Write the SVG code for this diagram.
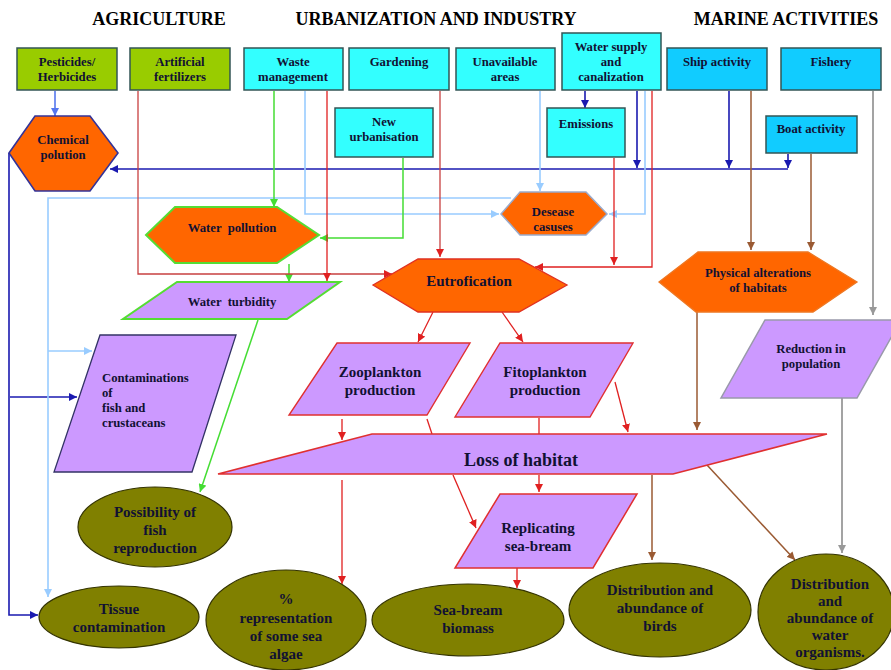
<svg xmlns="http://www.w3.org/2000/svg" width="891" height="670" viewBox="0 0 891 670" font-family="'Liberation Serif','Times New Roman',serif">
<defs>
<style>
text{font-family:"Liberation Serif","Times New Roman",serif;font-weight:bold;fill:#111133;text-anchor:middle}
.title{font-size:18px;fill:#000}
.bx{font-size:12.7px}
.lg{font-size:15px}
.green{fill:#99cc00;stroke:#335555;stroke-width:1.5}
.cyan{fill:#33ffff;stroke:#335555;stroke-width:1.5}
.blue{fill:#11ccff;stroke:#335555;stroke-width:1.5}
.orange{fill:#ff6600}
.purple{fill:#cc99ff}
.olive{fill:#808000;stroke:#333300;stroke-width:1.2}
.c{fill:none;stroke-width:1.3}
.red{stroke:#e02020}
.dred{stroke:#c84040}
.dblue{stroke:#1a1ab0;stroke-width:1.6}
.lblue{stroke:#99ccff;stroke-width:1.6}
.grn{stroke:#44dd33;stroke-width:1.5}
.brn{stroke:#9a5a33;stroke-width:1.5}
.gry{stroke:#999999;stroke-width:1.8}
.pbl{stroke:#5577ee;stroke-width:1.6}
</style>
<marker id="aR" markerWidth="8" markerHeight="8" refX="8" refY="4" orient="auto" markerUnits="userSpaceOnUse"><path d="M0,0 L8,4 L0,8 z" fill="#e02020"/></marker>
<marker id="aDB" markerWidth="8" markerHeight="8" refX="8" refY="4" orient="auto" markerUnits="userSpaceOnUse"><path d="M0,0 L8,4 L0,8 z" fill="#1a1ab0"/></marker>
<marker id="aLB" markerWidth="8" markerHeight="8" refX="8" refY="4" orient="auto" markerUnits="userSpaceOnUse"><path d="M0,0 L8,4 L0,8 z" fill="#99ccff"/></marker>
<marker id="aG" markerWidth="8" markerHeight="8" refX="8" refY="4" orient="auto" markerUnits="userSpaceOnUse"><path d="M0,0 L8,4 L0,8 z" fill="#44dd33"/></marker>
<marker id="aBr" markerWidth="8" markerHeight="8" refX="8" refY="4" orient="auto" markerUnits="userSpaceOnUse"><path d="M0,0 L8,4 L0,8 z" fill="#9a5a33"/></marker>
<marker id="aGy" markerWidth="8" markerHeight="8" refX="8" refY="4" orient="auto" markerUnits="userSpaceOnUse"><path d="M0,0 L8,4 L0,8 z" fill="#999999"/></marker>
<marker id="aPB" markerWidth="8" markerHeight="8" refX="8" refY="4" orient="auto" markerUnits="userSpaceOnUse"><path d="M0,0 L8,4 L0,8 z" fill="#5577ee"/></marker>
</defs>
<rect width="891" height="670" fill="#ffffff"/>

<g id="titles">
<text class="title" x="159" y="25">AGRICULTURE</text>
<text class="title" x="436" y="25">URBANIZATION AND INDUSTRY</text>
<text class="title" x="786" y="25">MARINE ACTIVITIES</text>
</g>

<g id="connectors">
<line class="c pbl" x1="55" y1="91" x2="55" y2="116" marker-end="url(#aPB)"/>
<line class="c dblue" x1="585" y1="91" x2="585" y2="108" marker-end="url(#aDB)"/>
<line class="c dblue" x1="637" y1="91" x2="637" y2="168" marker-end="url(#aDB)"/>
<line class="c dblue" x1="729" y1="91" x2="729" y2="168" marker-end="url(#aDB)"/>
<line class="c dblue" x1="788" y1="154" x2="788" y2="168" marker-end="url(#aDB)"/>
<polyline class="c dblue" points="788,169 110,169" marker-end="url(#aDB)"/>
<polyline class="c dblue" points="9,153 9,615 38,615" marker-end="url(#aDB)"/>
<line class="c dblue" x1="10" y1="397" x2="77" y2="397" marker-end="url(#aDB)"/>
<polyline class="c lblue" points="305,91 305,214 499,214" marker-end="url(#aLB)"/>
<line class="c lblue" x1="540" y1="91" x2="540" y2="191" marker-end="url(#aLB)"/>
<polyline class="c lblue" points="645,91 645,214 609,214" marker-end="url(#aLB)"/>
<polyline class="c lblue" points="511,198 48,198 48,597" marker-end="url(#aLB)"/>
<line class="c lblue" x1="48" y1="351" x2="92" y2="351" marker-end="url(#aLB)"/>
<line class="c grn" x1="274" y1="91" x2="274" y2="207" marker-end="url(#aG)"/>
<polyline class="c grn" points="403,158 403,238 320,238" marker-end="url(#aG)"/>
<line class="c grn" x1="289" y1="264" x2="289" y2="282" marker-end="url(#aG)"/>
<line class="c grn" x1="258" y1="320" x2="200" y2="492" marker-end="url(#aG)"/>
<polyline class="c dred" points="138,91 138,274 392,274" marker-end="url(#aR)"/>
<line class="c red" x1="327" y1="91" x2="327" y2="281" marker-end="url(#aR)"/>
<line class="c dred" x1="440" y1="91" x2="440" y2="257" marker-end="url(#aR)"/>
<line class="c red" x1="614" y1="158" x2="614" y2="265" marker-end="url(#aR)"/>
<polyline class="c red" points="652,91 652,267 535,267" marker-end="url(#aR)"/>
<line class="c red" x1="433" y1="312" x2="418" y2="342" marker-end="url(#aR)"/>
<line class="c red" x1="502" y1="312" x2="523" y2="342" marker-end="url(#aR)"/>
<line class="c red" x1="342" y1="419" x2="342" y2="440" marker-end="url(#aR)"/>
<line class="c red" x1="427" y1="419" x2="432" y2="434"/>
<line class="c red" x1="539" y1="418" x2="539" y2="434"/>
<line class="c red" x1="615" y1="382" x2="628" y2="432" marker-end="url(#aR)"/>
<line class="c red" x1="342" y1="480" x2="342" y2="584" marker-end="url(#aR)"/>
<line class="c red" x1="453" y1="475" x2="476" y2="528" marker-end="url(#aR)"/>
<line class="c red" x1="539" y1="475" x2="539" y2="492" marker-end="url(#aR)"/>
<line class="c red" x1="517" y1="568" x2="517" y2="588" marker-end="url(#aR)"/>
<line class="c brn" x1="652" y1="475" x2="652" y2="560" marker-end="url(#aBr)"/>
<line class="c brn" x1="707" y1="465" x2="795" y2="560" marker-end="url(#aBr)"/>
<line class="c brn" x1="751" y1="91" x2="751" y2="250" marker-end="url(#aBr)"/>
<line class="c brn" x1="811" y1="154" x2="811" y2="250" marker-end="url(#aBr)"/>
<line class="c brn" x1="697" y1="312" x2="697" y2="430" marker-end="url(#aBr)"/>
<line class="c gry" x1="873" y1="91" x2="873" y2="315" marker-end="url(#aGy)"/>
<line class="c gry" x1="842" y1="398" x2="842" y2="553" marker-end="url(#aGy)"/>
</g>

<g id="n-pesticides"><rect class="green" x="17" y="48" width="100" height="42"/><text class="bx" x="67" y="66">Pesticides/</text><text class="bx" x="67" y="81">Herbicides</text></g>
<g id="n-fertilizers"><rect class="green" x="130" y="48" width="100" height="42"/><text class="bx" x="180" y="66">Artificial</text><text class="bx" x="180" y="81">fertilizers</text></g>
<g id="n-waste"><rect class="cyan" x="244" y="48" width="99" height="42"/><text class="bx" x="293" y="66">Waste</text><text class="bx" x="293" y="81">management</text></g>
<g id="n-gardening"><rect class="cyan" x="349" y="48" width="100" height="42"/><text class="bx" x="399" y="66">Gardening</text></g>
<g id="n-unavailable"><rect class="cyan" x="456" y="48" width="99" height="42"/><text class="bx" x="505" y="66">Unavailable</text><text class="bx" x="505" y="81">areas</text></g>
<g id="n-watersupply"><rect class="cyan" x="562" y="33" width="99" height="57"/><text class="bx" x="611" y="51">Water supply</text><text class="bx" x="611" y="66">and</text><text class="bx" x="611" y="81">canalization</text></g>
<g id="n-ship"><rect class="blue" x="667" y="48" width="100" height="42"/><text class="bx" x="717" y="66">Ship activity</text></g>
<g id="n-fishery"><rect class="blue" x="781" y="48" width="100" height="42"/><text class="bx" x="831" y="66">Fishery</text></g>
<g id="n-newurban"><rect class="cyan" x="335" y="108" width="98" height="49"/><text class="bx" x="384" y="126">New</text><text class="bx" x="384" y="141">urbanisation</text></g>
<g id="n-emissions"><rect class="cyan" x="547" y="108" width="78" height="49"/><text class="bx" x="586" y="128">Emissions</text></g>
<g id="n-boat"><rect class="blue" x="766" y="116" width="91" height="37"/><text class="bx" x="811" y="133">Boat activity</text></g>

<g id="n-chemical"><polygon class="orange" points="9,153 35,116 90,116 118,153 90,191 35,191" stroke="#333399" stroke-width="1.6"/><text class="bx" x="63" y="144">Chemical</text><text class="bx" x="63" y="159">polution</text></g>
<g id="n-desease"><polygon class="orange" points="501,214 520,192 586,192 607,214 586,235 520,235" stroke="#99aacc" stroke-width="1.5"/><text class="bx" x="553" y="216">Desease</text><text class="bx" x="553" y="231">casuses</text></g>
<g id="n-waterpollution"><polygon class="orange" points="146,235 175,207 277,207 319,235 277,263 175,263" stroke="#55dd33" stroke-width="2"/><text class="bx" x="232" y="232" xml:space="preserve">Water  pollution</text></g>
<g id="n-turbidity"><polygon class="purple" points="177,282 340,282 287,319 123,319" stroke="#55dd33" stroke-width="2"/><text class="bx" x="232" y="306" xml:space="preserve">Water  turbidity</text></g>
<g id="n-eutrofication"><polygon class="orange" points="373,285 418,259 519,259 567,285 519,312 418,312" stroke="#e03020" stroke-width="1.3"/><text class="lg" x="469" y="286">Eutrofication</text></g>
<g id="n-physical"><polygon class="orange" points="659,282 698,252 808,252 857,282 813,312 696,312" stroke="#ee7722" stroke-width="1.3"/><text class="bx" x="758" y="277">Physical alterations</text><text class="bx" x="758" y="292">of habitats</text></g>
<g id="n-reduction"><polygon class="purple" points="765,320 901,320 857,398 721,398" stroke="#9999aa" stroke-width="1.5"/><text class="bx" x="811" y="353">Reduction in</text><text class="bx" x="811" y="368">population</text></g>
<g id="n-contam"><polygon class="purple" points="100,335 236,335 192,472 54,472" stroke="#333366" stroke-width="1.3"/><text class="bx" x="102" y="382" style="text-anchor:start">Contaminations</text><text class="bx" x="102" y="397" style="text-anchor:start">of</text><text class="bx" x="102" y="412" style="text-anchor:start">fish and</text><text class="bx" x="102" y="427" style="text-anchor:start">crustaceans</text></g>
<g id="n-zoo"><polygon class="purple" points="337,343 470,343 427,415 289,415" stroke="#e03030" stroke-width="1.4"/><text class="lg" x="380" y="377">Zooplankton</text><text class="lg" x="380" y="395">production</text></g>
<g id="n-fito"><polygon class="purple" points="500,343 633,343 590,417 455,417" stroke="#e03030" stroke-width="1.4"/><text class="lg" x="545" y="377">Fitoplankton</text><text class="lg" x="545" y="395">production</text></g>
<g id="n-loss"><polygon class="purple" points="372,434 827,434 673,474 218,474" stroke="#e03030" stroke-width="1.5"/><text x="521" y="466" style="font-size:18px">Loss of habitat</text></g>
<g id="n-replicating"><polygon class="purple" points="500,494 637,494 593,568 455,568" stroke="#e03030" stroke-width="1.5"/><text class="lg" x="538" y="533">Replicating</text><text class="lg" x="538" y="551">sea-bream</text></g>

<g id="n-possibility"><ellipse class="olive" cx="155" cy="527" rx="77" ry="40"/><text class="lg" x="155" y="517">Possibility of</text><text class="lg" x="155" y="535">fish</text><text class="lg" x="155" y="553">reproduction</text></g>
<g id="n-tissue"><ellipse class="olive" cx="119" cy="617" rx="80" ry="31"/><text class="lg" x="119" y="614">Tissue</text><text class="lg" x="119" y="632">contamination</text></g>
<g id="n-percent"><ellipse class="olive" cx="286" cy="620" rx="80" ry="50"/><text class="lg" x="286" y="604">%</text><text class="lg" x="286" y="623">representation</text><text class="lg" x="286" y="641">of some sea</text><text class="lg" x="286" y="659">algae</text></g>
<g id="n-biomass"><ellipse class="olive" cx="468" cy="620" rx="96" ry="36"/><text class="lg" x="468" y="615">Sea-bream</text><text class="lg" x="468" y="633">biomass</text></g>
<g id="n-birds"><ellipse class="olive" cx="660" cy="610" rx="91" ry="47"/><text class="lg" x="660" y="595">Distribution and</text><text class="lg" x="660" y="613">abundance of</text><text class="lg" x="660" y="631">birds</text></g>
<g id="n-organisms"><ellipse class="olive" cx="826" cy="612" rx="68" ry="58"/><text class="lg" x="830" y="589">Distribution</text><text class="lg" x="830" y="606">and</text><text class="lg" x="830" y="623">abundance of</text><text class="lg" x="830" y="640">water</text><text class="lg" x="830" y="657">organisms.</text></g>
</svg>
